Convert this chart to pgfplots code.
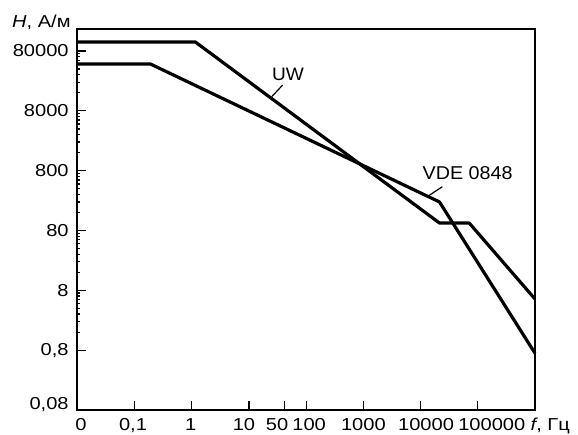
\documentclass[border=0pt]{standalone}
\usepackage{fontspec}
\setmainfont[FakeStretch=1.16]{Liberation Sans}
\newfontfamily\annfont[FakeStretch=1.06]{Liberation Sans}
\usepackage{pgfplots}
\pgfplotsset{compat=1.18}

% shift a tick label sideways by #1/2, as the original places them by hand
\newcommand\sh[2]{\makebox[0pt]{\hspace*{#1}#2}}

\begin{document}
\fontsize{17.3}{20}\selectfont
\begin{tikzpicture}[x=1pt,y=1pt]
\path[use as bounding box] (0,0) rectangle (578,434);
\begin{axis}[
  at={(77.3pt,24pt)}, anchor=south west,
  scale only axis, width=457.7pt, height=381pt,
  xmode=log, ymode=log,
  xmin=0.01, xmax=1e6,
  ymin=0.08, ymax=186700,
  xtick={0.01,0.1,1,10,42,100,1000,10000,100000},
  xticklabels={\sh{7.4pt}{0},\sh{-3pt}{0{,}1},\sh{-2pt}{1},\sh{-10pt}{10},\sh{-15pt}{50},
    \sh{6pt}{100},\sh{0pt}{1000},\sh{11pt}{10000},\sh{28pt}{100000}},
  ytick={0.8,8,80,800,8000,80000},
  yticklabels={0{,}8,8,80,800,8000,80000},
  extra y ticks={0.08}, extra y tick labels={0{,}08},
  extra y tick style={yticklabel style={yshift=5pt}},
  minor xtick={}, minor ytick={},
  tick align=inside, xtick pos=bottom, ytick pos=left,
  major tick length=9pt,
  tick style={line width=1.3pt, black},
  axis line style={line width=1.8pt},
  every tick label/.append style={font=\fontsize{17.3}{20}\selectfont},
  /pgf/number format/assume math mode=true,
  xticklabel style={inner sep=0pt, yshift=-8pt},
  yticklabel style={xshift=-2.7pt},
  clip=false,
]
% UW
\addplot[black, line width=3.2pt, line join=round] coordinates {
  (0.01,113000) (1.16,113000) (21400,106.7) (70800,106.7) (1e6,5.73)};
% VDE 0848
\addplot[black, line width=3.2pt, line join=round] coordinates {
  (0.01,48500) (0.19,48500) (21400,240) (1e6,0.71)};
\end{axis}
\node[anchor=base west, inner sep=0pt] at (12,406.5) {\textit{H}, А/м};
\node[anchor=base west, inner sep=0pt] at (530.5,3.6) {\textit{f}, Гц};
\node[anchor=base west, inner sep=0pt, font=\annfont\fontsize{18}{20}\selectfont] at (272,353) {UW};
\draw[line width=1.2pt] (282.7,349) -- (271.7,337.3);
\node[anchor=base west, inner sep=0pt, font=\annfont\fontsize{18.6}{20}\selectfont] at (422.5,254) {VDE 0848};
\draw[line width=1.2pt] (442.3,247.3) -- (428.3,238);
\end{tikzpicture}
\end{document}
